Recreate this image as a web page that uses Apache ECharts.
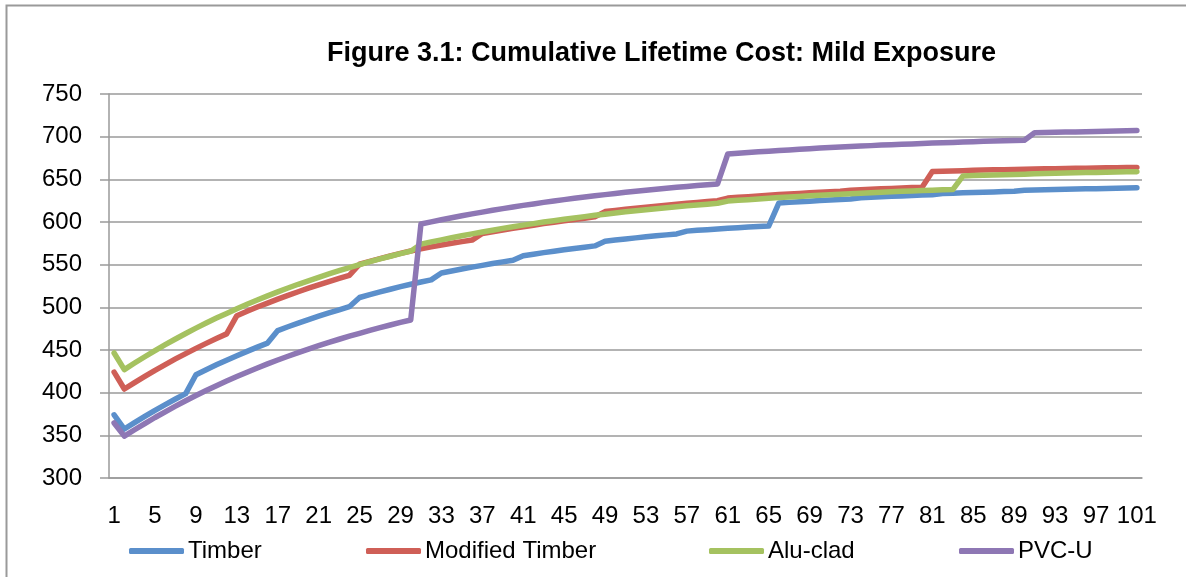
<!DOCTYPE html>
<html>
<head>
<meta charset="utf-8">
<script src="https://cdn.jsdelivr.net/npm/echarts@6/dist/echarts.min.js"></script>
<style>
  html, body { margin: 0; padding: 0; background: #fff; }
  #chart { width: 1186px; height: 577px; }
</style>
</head>
<body>
<div id="chart"></div>
<script>
// years 1..101 on the x axis
const years = [];
for (let y = 1; y <= 101; y++) years.push(String(y));

const seriesNames = ['Timber', 'Modified Timber', 'Alu-clad', 'PVC-U'];
const seriesColors = ['#5B8FCB', '#CF5F57', '#A5C260', '#8E77B4'];

const timber = [
  374, 357.4, 364.9, 372.2, 379.3, 386.0, 392.6, 398.9, 421.0, 426.9,
  432.6, 438.0, 443.3, 448.4, 453.4, 458.1, 472.8, 477.2, 481.5, 485.6,
  489.6, 493.4, 497.1, 500.7, 511.5, 514.9, 518.1, 521.2, 524.2, 527.0,
  529.7, 532.2, 540.2, 542.6, 544.9, 547.1, 549.2, 551.3, 553.3, 555.2,
  560.5, 562.3, 564.1, 565.8, 567.4, 569.0, 570.5, 572.0, 577.5, 578.9,
  580.2, 581.4, 582.6, 583.8, 584.9, 586.0, 589.3, 590.2, 591.0, 591.8,
  592.6, 593.3, 594.0, 594.7, 595.3, 622.3, 623.0, 623.8, 624.4, 625.1,
  625.7, 626.3, 626.9, 628.5, 629.1, 629.6, 630.1, 630.6, 631.1, 631.5,
  632.0, 633.4, 633.8, 634.2, 634.6, 635.0, 635.3, 635.7, 636.0, 637.2,
  637.5, 637.8, 638.1, 638.3, 638.6, 638.9, 639.1, 639.4, 639.6, 639.8,
  640.0
];

const modifiedTimber = [
  424, 404.3, 411.8, 419.1, 426.2, 432.9, 439.5, 445.8, 451.9, 457.8,
  463.5, 468.9, 490.2, 495.3, 500.3, 505.0, 509.6, 514.0, 518.3, 522.4,
  526.4, 530.2, 533.9, 537.5, 550.5, 553.9, 557.1, 560.2, 563.2, 566.0,
  568.5, 570.8, 573.0, 575.0, 577.0, 578.8, 586.5, 588.6, 590.7, 592.6,
  594.5, 596.3, 598.1, 599.7, 601.4, 603.0, 604.5, 606.0, 612.2, 613.6,
  614.9, 616.2, 617.4, 618.6, 619.7, 620.9, 622.0, 623.0, 623.9, 624.9,
  628.0, 628.9, 629.7, 630.5, 631.3, 632.1, 632.8, 633.5, 634.2, 634.9,
  635.5, 636.1, 637.2, 637.8, 638.3, 638.9, 639.4, 639.9, 640.3, 640.8,
  659.3, 659.6, 659.9, 660.2, 660.5, 660.8, 661.1, 661.3, 661.6, 661.8,
  662.1, 662.3, 662.5, 662.7, 662.9, 663.1, 663.3, 663.5, 663.7, 663.8,
  664.0
];

const aluClad = [
  446.5, 427.0, 434.7, 442.1, 449.3, 456.2, 462.9, 469.3, 475.6, 481.6,
  487.4, 492.9, 498.3, 503.5, 508.6, 513.4, 518.1, 522.6, 527.0, 531.1,
  535.2, 539.1, 542.9, 546.5, 550.0, 553.5, 556.7, 559.9, 563.0, 565.8,
  574.0, 576.7, 579.1, 581.5, 583.9, 586.1, 588.3, 590.4, 592.5, 594.4,
  596.3, 598.1, 599.9, 601.5, 603.2, 604.8, 606.3, 607.8, 609.2, 610.6,
  611.9, 613.2, 614.4, 615.6, 616.7, 617.9, 619.0, 620.0, 620.9, 621.9,
  624.5, 625.4, 626.2, 627.0, 627.8, 628.6, 629.3, 630.0, 630.7, 631.4,
  632.0, 632.6, 633.2, 633.8, 634.3, 634.9, 635.4, 635.9, 636.3, 636.8,
  637.3, 637.7, 638.0, 654.0, 654.4, 654.8, 655.1, 655.5, 655.8, 656.1,
  656.4, 656.8, 657.0, 657.3, 657.6, 657.9, 658.1, 658.3, 658.6, 658.8,
  659.0
];

const pvcU = [
  364.5, 349.0, 356.5, 363.8, 370.9, 377.6, 384.2, 390.5, 396.6, 402.5,
  408.2, 413.6, 418.9, 424.0, 429.0, 433.7, 438.3, 442.7, 447.0, 451.1,
  455.1, 458.9, 462.6, 466.2, 469.6, 473.0, 476.2, 479.3, 482.3, 485.1,
  597.6, 600.2, 602.6, 605.0, 607.3, 609.5, 611.6, 613.7, 615.7, 617.6,
  619.5, 621.2, 623.0, 624.6, 626.2, 627.8, 629.3, 630.7, 632.1, 633.5,
  634.8, 636.0, 637.2, 638.4, 639.5, 640.6, 641.7, 642.7, 643.6, 644.6,
  679.7, 680.6, 681.4, 682.2, 683.0, 683.8, 684.5, 685.2, 685.9, 686.6,
  687.2, 687.8, 688.4, 689.0, 689.5, 690.1, 690.6, 691.1, 691.5, 692.0,
  692.5, 692.9, 693.3, 693.7, 694.1, 694.5, 694.8, 695.2, 695.5, 695.8,
  704.5, 704.8, 705.1, 705.4, 705.6, 705.9, 706.2, 706.4, 706.6, 706.9,
  707.1
];

const allValues = [timber, modifiedTimber, aluClad, pvcU];
const legendLefts = [129, 366, 709, 959];

const font = "'Liberation Sans', Arial, sans-serif";
const axisGray = '#9a9a9a';

const chart = echarts.init(document.getElementById('chart'), null, { renderer: 'canvas' });

let option = {
  animation: false,
  backgroundColor: '#ffffff',
  title: {
    text: 'Figure 3.1: Cumulative Lifetime Cost: Mild Exposure',
    left: 322,
    top: 35,
    textStyle: { fontFamily: font, fontSize: 27, fontWeight: 'bold', color: '#000' }
  },
  legend: legendLefts.map((l, i) => ({
    data: [seriesNames[i]],
    left: l,
    top: 539,
    padding: 0,
    icon: 'roundRect',
    itemWidth: 55,
    itemHeight: 6,
    textStyle: { fontFamily: font, fontSize: 24, color: '#000', padding: [0, 0, 0, -1] }
  })),
  grid: { left: 109, right: 44, top: 94, bottom: 99 },
  xAxis: {
    type: 'category',
    data: years,
    boundaryGap: true,
    axisLine: { lineStyle: { color: axisGray, width: 1.5 } },
    axisTick: { interval: 0, length: 8, lineStyle: { color: axisGray, width: 1.5 } },
    axisLabel: { interval: 3, margin: 26, fontFamily: font, fontSize: 24, color: '#000' },
    splitLine: { show: false }
  },
  yAxis: {
    type: 'value',
    min: 300,
    max: 750,
    interval: 50,
    axisLine: { show: true, lineStyle: { color: axisGray, width: 1.5 } },
    axisTick: { show: true, length: 9, lineStyle: { color: axisGray, width: 1.5 } },
    axisLabel: { margin: 27, fontFamily: font, fontSize: 24, color: '#000' },
    splitLine: { lineStyle: { color: axisGray, width: 1.5 } }
  },
  graphic: [{
    type: 'polyline',
    shape: { points: [[6.5, 577], [6.5, 5.5], [1186, 5.5]] },
    style: { stroke: '#9a9a9a', lineWidth: 2, fill: null },
    silent: true
  }],
  series: allValues.map((vals, i) => ({
    name: seriesNames[i],
    type: 'line',
    data: vals,
    showSymbol: false,
    symbol: 'none',
    itemStyle: { color: seriesColors[i] },
    lineStyle: { color: seriesColors[i], width: 5.5, cap: 'round', join: 'round' },
    z: 2 + i
  }))
};

chart.setOption(option);
</script>
</body>
</html>
